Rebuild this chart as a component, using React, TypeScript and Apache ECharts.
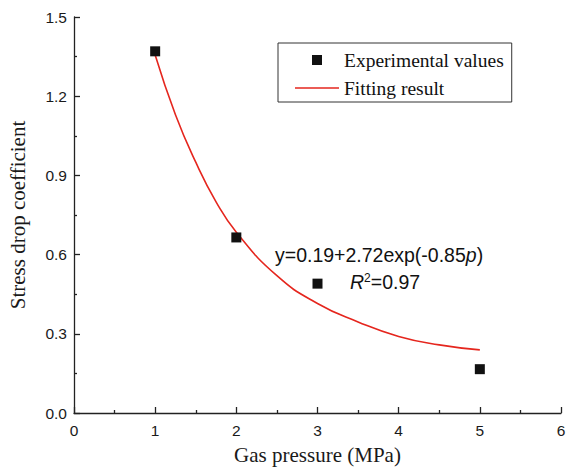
import React, { useEffect, useRef } from "react";
import * as echarts from "echarts";

const expPressure = [1, 2, 3, 5];
const expValues = [1.37, 0.665, 0.49, 0.166];

const fitPressure = [1, 1.25, 1.5, 1.75, 2, 2.5, 3, 3.5, 4, 4.5, 5];
const fitValues = [1.356, 1.13, 0.95, 0.8, 0.685, 0.52, 0.415, 0.345, 0.29, 0.258, 0.239];

const seriesNames = ["Experimental values", "Fitting result"];
const equationText = "y=0.19+2.72exp(-0.85{i|p})";
const r2Text = "{i|R}{sup|2}=0.97";

export default function App() {
  const ref = useRef<HTMLDivElement>(null);

  useEffect(() => {
    if (!ref.current) return;
    const chart = echarts.init(ref.current, null, { renderer: "svg" });
    const axisColor = "#222";
    const serif = "Liberation Serif";
    const sans = "Liberation Sans";
    chart.setOption({
      animation: false,
      backgroundColor: "#fff",
      grid: { left: 74, right: 6, top: 17, bottom: 56, containLabel: false, outerBoundsMode: "none" },
      xAxis: {
        type: "value",
        min: 0,
        max: 6,
        interval: 1,
        name: "Gas pressure (MPa)",
        nameLocation: "middle",
        nameGap: 31,
        nameTextStyle: { fontFamily: serif, fontSize: 21, color: "#1a1a1a" },
        axisLine: { show: true, lineStyle: { color: axisColor, width: 1.3 } },
        axisTick: { show: true, inside: true, length: 6, lineStyle: { color: axisColor, width: 1.3 } },
        minorTick: { show: true, splitNumber: 2, length: 3, lineStyle: { color: axisColor, width: 1.3 } },
        splitLine: { show: false },
        axisLabel: { fontFamily: sans, fontSize: 15.5, color: "#1a1a1a", margin: 9 },
      },
      yAxis: {
        type: "value",
        min: 0,
        max: 1.5,
        interval: 0.3,
        name: "Stress drop coefficient",
        nameLocation: "middle",
        nameGap: 46,
        nameTextStyle: { fontFamily: serif, fontSize: 21, color: "#1a1a1a" },
        axisLine: { show: true, lineStyle: { color: axisColor, width: 1.3 } },
        axisTick: { show: true, inside: true, length: 6, lineStyle: { color: axisColor, width: 1.3 } },
        minorTick: { show: true, splitNumber: 2, length: 3, lineStyle: { color: axisColor, width: 1.3 } },
        splitLine: { show: false },
        axisLabel: {
          fontFamily: sans,
          fontSize: 15.5,
          color: "#1a1a1a",
          margin: 7,
          formatter: (v: number) => v.toFixed(1),
        },
      },
      legend: {
        orient: "vertical",
        left: 278,
        top: 43,
        padding: [7, 8, 4, 17],
        borderColor: "#333",
        borderWidth: 1,
        itemWidth: 44,
        itemHeight: 10,
        itemGap: 8,
        symbolKeepAspect: true,
        textStyle: { fontFamily: serif, fontSize: 19.5, color: "#111", lineHeight: 16 },
        data: [
          { name: seriesNames[0], icon: "path://M0,0H10V10H0Z" },
          { name: seriesNames[1], icon: "path://M0,0H44V1.6H0Z" },
        ],
      },
      graphic: [
        {
          type: "text",
          left: 275,
          top: 245,
          style: {
            text: equationText,
            font: `19.5px ${sans}`,
            fill: "#111",
            rich: { i: { fontStyle: "italic", fontSize: 19.5, fontFamily: sans } },
          },
        },
        {
          type: "text",
          left: 350,
          top: 272,
          style: {
            text: r2Text,
            font: `19.5px ${sans}`,
            fill: "#111",
            rich: {
              i: { fontStyle: "italic", fontSize: 19.5, fontFamily: sans },
              sup: { fontSize: 12, fontFamily: sans, verticalAlign: "top" },
            },
          },
        },
      ],
      series: [
        {
          name: seriesNames[1],
          type: "line",
          data: fitPressure.map((p, i) => [p, fitValues[i]]),
          smooth: 0.5,
          symbol: "none",
          color: "#e5261e",
          lineStyle: { color: "#e5261e", width: 1.6 },
          z: 2,
        },
        {
          name: seriesNames[0],
          type: "scatter",
          data: expPressure.map((p, i) => [p, expValues[i]]),
          symbol: "rect",
          symbolSize: 10,
          color: "#111",
          itemStyle: { color: "#111", opacity: 1 },
          z: 3,
        },
      ],
    });
    return () => chart.dispose();
  }, []);

  return (
    <div
      ref={ref}
      style={{ position: "fixed", left: 0, top: 0, width: 567, height: 469, background: "#fff" }}
    />
  );
}
